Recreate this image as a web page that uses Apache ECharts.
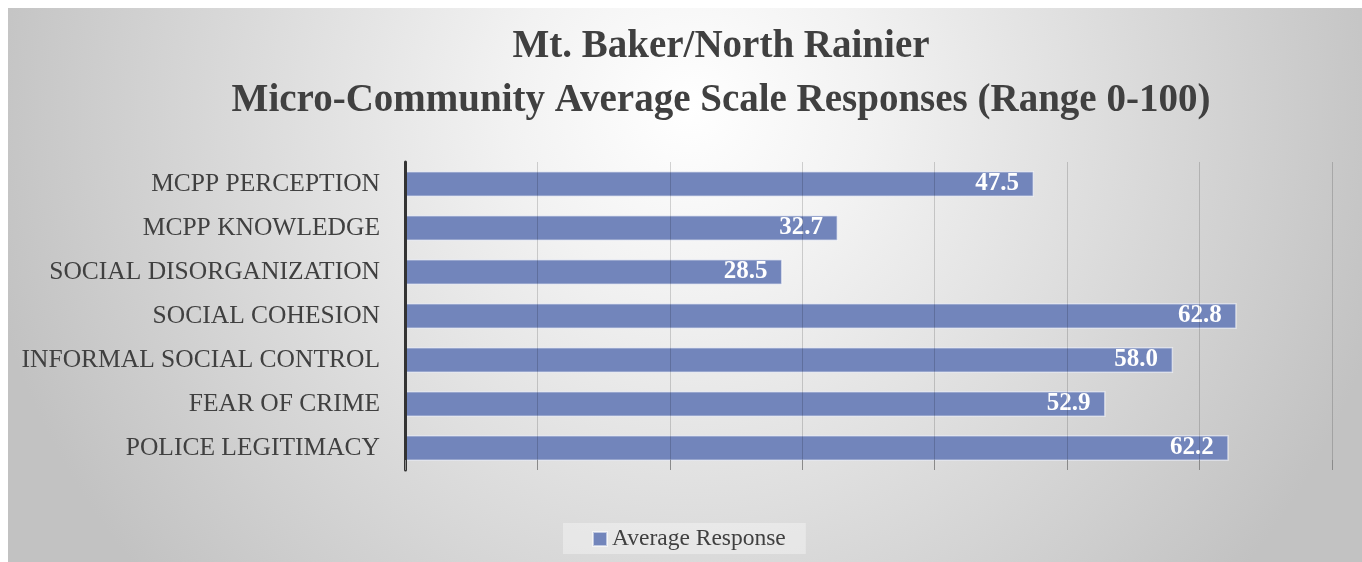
<!DOCTYPE html>
<html>
<head>
<meta charset="utf-8">
<script src="https://cdn.jsdelivr.net/npm/echarts@6/dist/echarts.min.js"></script>
<style>
  html, body { margin: 0; padding: 0; background: #ffffff; }
  #bg { position: absolute; left: 8px; top: 8px; width: 1354px; height: 554px;
        background: radial-gradient(circle 720px at 682px 100px, #ffffff 0%, #f2f2f2 25%, #c2c2c2 100%); }
  #chart { position: absolute; left: 0; top: 0; width: 1362px; height: 562px; }
</style>
</head>
<body>
<div id="bg"></div>
<div id="chart"></div>
<script>
const titleLines = ['Mt. Baker/North Rainier', 'Micro-Community Average Scale Responses (Range 0-100)'];
const categories = ['MCPP PERCEPTION', 'MCPP KNOWLEDGE', 'SOCIAL DISORGANIZATION', 'SOCIAL COHESION',
                    'INFORMAL SOCIAL CONTROL', 'FEAR OF CRIME', 'POLICE LEGITIMACY'];
const seriesName = 'Average Response';
const values = [47.5, 32.7, 28.5, 62.8, 58.0, 52.9, 62.2];

const serif = '"Liberation Serif", "DejaVu Serif", serif';
const chart = echarts.init(document.getElementById('chart'), null, { renderer: 'canvas' });
chart.setOption({
  backgroundColor: 'transparent',
  animation: false,
  title: {
    text: titleLines.join('\n'),
    left: 721,
    textAlign: 'center',
    top: 20,
    padding: 0,
    textStyle: { fontFamily: serif, fontWeight: 'bold', fontSize: 39, lineHeight: 54, color: '#404040' }
  },
  legend: {
    data: [seriesName],
    left: 563,
    top: 523,
    icon: 'rect',
    itemWidth: 14,
    itemHeight: 14,
    itemGap: 8,
    backgroundColor: 'rgba(255,255,255,0.35)',
    padding: [4, 20, 3, 29],
    textStyle: { fontFamily: serif, fontSize: 23.5, color: '#404040' }
  },
  grid: { left: 405, right: 30, top: 162, bottom: 92, containLabel: false },
  xAxis: {
    type: 'value',
    min: 0, max: 70, interval: 10,
    z: 3,
    axisLine: { show: false },
    axisLabel: { show: false },
    axisTick: { show: true, inside: true, length: 10, lineStyle: { color: '#8a8a8a', width: 1 } },
    splitLine: { show: true, lineStyle: { color: 'rgba(0,0,0,0.16)', width: 1 } }
  },
  yAxis: {
    type: 'category',
    data: categories,
    inverse: true,
    z: 3,
    axisLine: { show: true, lineStyle: { color: '#333333', width: 3 } },
    axisTick: { show: false },
    axisLabel: { margin: 25, fontFamily: serif, fontSize: 25.5, color: '#404040' },
    splitLine: { show: false }
  },
  series: [{
    name: seriesName,
    type: 'bar',
    data: values,
    barWidth: 26,
    itemStyle: { color: '#7285bb', borderColor: 'rgba(255,255,255,0.55)', borderWidth: 1.5 },
    label: {
      show: true,
      position: 'insideRight',
      distance: 15,
      color: '#ffffff',
      fontFamily: serif,
      fontWeight: 'bold',
      fontSize: 25,
      formatter: p => p.value.toFixed(1)
    }
  }]
});
</script>
</body>
</html>
